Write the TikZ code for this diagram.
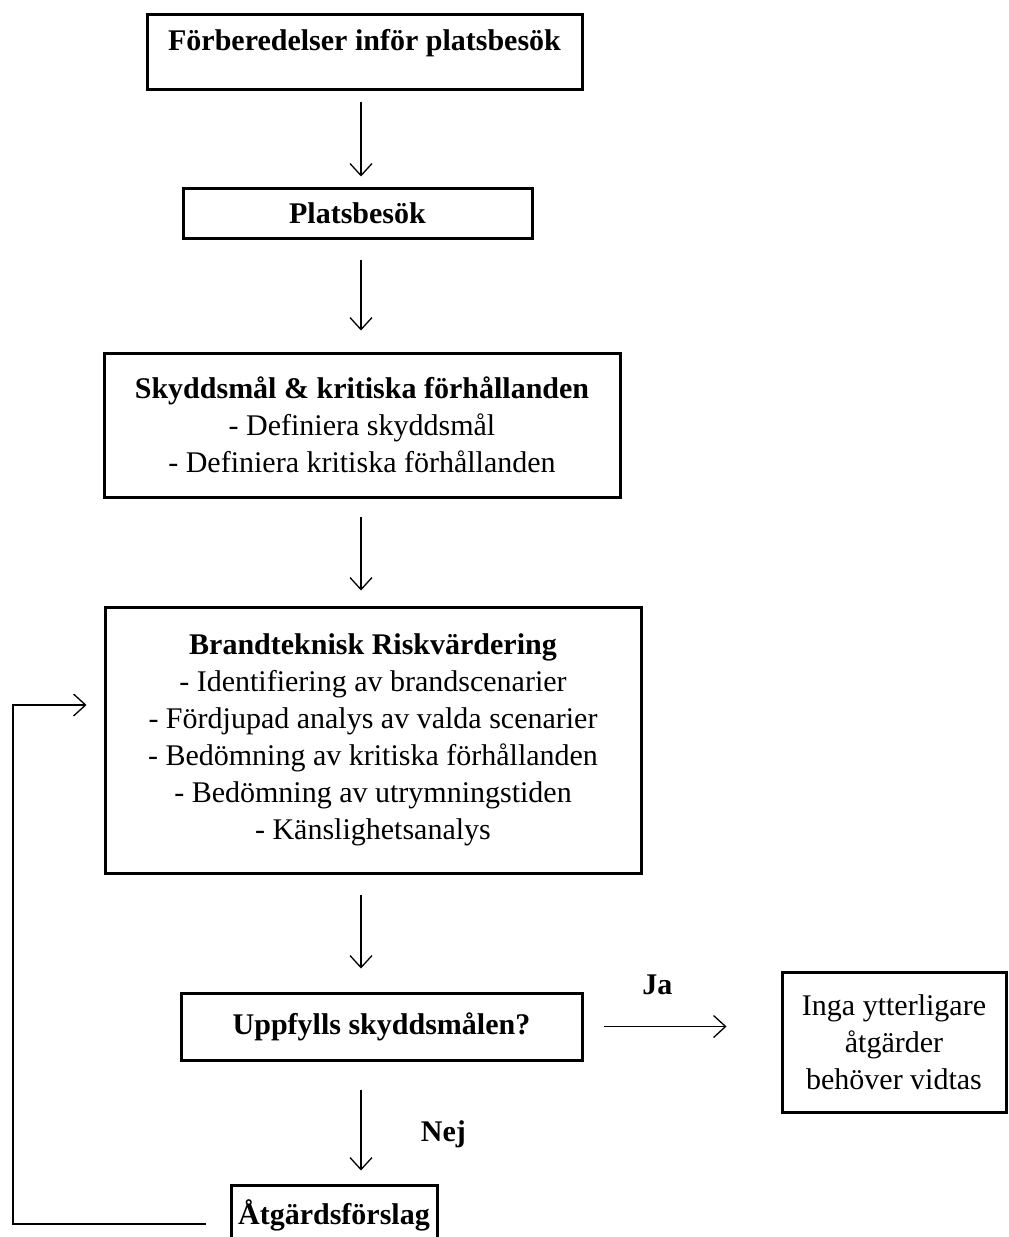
\documentclass[tikz,border=0pt]{standalone}
\usepackage{fontspec}
\setmainfont{Liberation Serif}
\usetikzlibrary{arrows.meta}

\begin{document}
\begin{tikzpicture}[x=1pt, y=1pt,
    font=\fontsize{30}{37}\selectfont,
    box/.style={draw, line width=3pt, inner sep=0pt, align=center},
    flow/.style={->, line width=1.3pt, >={Straight Barb[length=12pt, width=22pt, line width=1.3pt]}}]
  \useasboundingbox (0,0) rectangle (1009,-1237);
  \coordinate (spine) at (361,0);

  %% main chain
  \node[box, minimum width=435pt, minimum height=75pt, text height=20pt, text depth=23pt] (prep) at (364.5,-51.5) {\textbf{Förberedelser inför platsbesök}};
  \node[box, minimum width=349pt, minimum height=50pt] (site) at (357.5,-213) {\textbf{Platsbesök}};
  \node[box, minimum width=516pt, minimum height=144pt] (goals) at (362,-425)
    {\textbf{Skyddsmål \& kritiska förhållanden}\\
     - Definiera skyddsmål\\
     - Definiera kritiska förhållanden};
  \node[box, minimum width=536pt, minimum height=266pt] (risk) at (373,-740)
    {\textbf{Brandteknisk Riskvärdering}\\
     - Identifiering av brandscenarier\\
     - Fördjupad analys av valda scenarier\\
     - Bedömning av kritiska förhållanden\\
     - Bedömning av utrymningstiden\\
     - Känslighetsanalys};
  \node[box, minimum width=401pt, minimum height=67pt] (check) at (381.5,-1026.5) {\textbf{Uppfylls skyddsmålen?}};
  \node[box, minimum width=206pt, minimum height=60pt] (action) at (334,-1215) {\textbf{Åtgärdsförslag}};

  %% outcome
  \node[box, minimum width=224pt, minimum height=140pt] (done) at (894,-1042)
    {Inga ytterligare\\ åtgärder\\ behöver vidtas};

  \draw[flow, shorten <=11pt, shorten >=10pt] (prep.south -| spine) -- (site.north -| spine);
  \draw[flow, shorten <=20pt, shorten >=21pt] (site.south -| spine) -- (goals.north -| spine);
  \draw[flow, shorten <=18pt, shorten >=15pt] (goals.south -| spine) -- (risk.north -| spine);
  \draw[flow, shorten <=20pt, shorten >=23pt] (risk.south -| spine) -- (check.north -| spine);
  \draw[flow, shorten <=28pt, shorten >=13pt] (check.south -| spine) -- node[pos=0.6, right=56pt] {\textbf{Nej}} (action.north -| spine);
  \draw[flow, shorten <=20pt, shorten >=54pt] (check.east) -- node[pos=0.375, above=28pt] {\textbf{Ja}} (done.west |- check.east);

  %% back to risk assessment
  \coordinate (loopl) at (13,-1224);
  \coordinate (loopu) at (13,-705);
  \draw[flow, shorten <=24pt, shorten >=17pt] (action.west |- loopl) -- (loopl) -- (loopu) -- (risk.west |- loopu);
\end{tikzpicture}
\end{document}
